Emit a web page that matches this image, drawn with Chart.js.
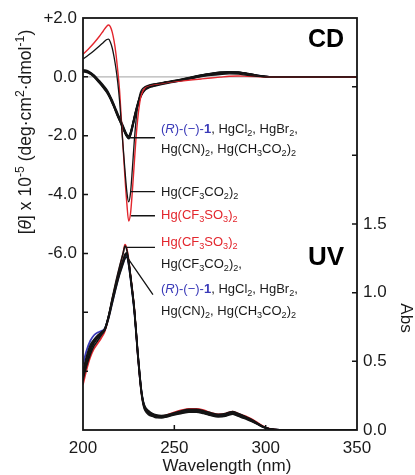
<!DOCTYPE html>
<html><head><meta charset="utf-8">
<script src="https://cdn.jsdelivr.net/npm/chart.js@4.4.1/dist/chart.umd.min.js"></script>
<style>html,body{margin:0;padding:0;background:#fff;}canvas{display:block;}</style>
</head><body>
<canvas id="c" width="415" height="475"></canvas>
<script>
// ---------- DATA ----------
const wlCD = [200,203,206,209,211,213,214,215,216,217,218,219,220,221,222,223,224,225,226,227,228,229,230,231,232,234,236,238,240,245,250,255,260,265,270,275,280,285,290,295,300,310,320,330,340,350];
const cdCF3SO3 = [0.77,0.95,1.15,1.38,1.55,1.72,1.76,1.70,1.52,1.22,0.80,0.22,-0.45,-1.45,-2.45,-3.45,-4.30,-4.90,-4.65,-3.90,-3.00,-2.10,-1.40,-0.90,-0.60,-0.36,-0.30,-0.27,-0.25,-0.20,-0.16,-0.13,-0.10,-0.07,-0.04,-0.01,0.02,0.03,0.02,0.01,0.00,0,0,0,0,0];
const cdCF3CO2 = [0.60,0.74,0.89,1.05,1.16,1.27,1.28,1.18,0.98,0.68,0.30,-0.18,-0.80,-1.60,-2.40,-3.20,-3.90,-4.25,-3.95,-3.15,-2.25,-1.50,-0.95,-0.62,-0.45,-0.33,-0.28,-0.25,-0.23,-0.19,-0.14,-0.09,-0.04,0.01,0.05,0.08,0.10,0.09,0.05,0.02,0.00,0,0,0,0,0];
const cdR1 = [0.22,0.17,0.04,-0.17,-0.31,-0.47,-0.58,-0.70,-0.84,-0.98,-1.14,-1.30,-1.43,-1.56,-1.71,-1.86,-1.99,-2.08,-1.96,-1.72,-1.45,-1.19,-0.95,-0.75,-0.60,-0.42,-0.35,-0.31,-0.28,-0.21,-0.16,-0.10,-0.03,0.04,0.09,0.13,0.15,0.14,0.10,0.05,0.01,0,0,0,0,0];
const cdHgCl2 = [0.20,0.15,0.02,-0.19,-0.34,-0.50,-0.61,-0.73,-0.87,-1.01,-1.17,-1.32,-1.46,-1.60,-1.75,-1.89,-2.01,-2.05,-1.92,-1.68,-1.41,-1.15,-0.92,-0.72,-0.57,-0.40,-0.33,-0.29,-0.26,-0.19,-0.14,-0.08,-0.01,0.06,0.11,0.15,0.17,0.16,0.11,0.05,0.01,0,0,0,0,0];
const cdHgBr2 = [0.18,0.13,0.00,-0.21,-0.36,-0.52,-0.63,-0.75,-0.89,-1.03,-1.19,-1.34,-1.48,-1.62,-1.77,-1.91,-2.03,-2.10,-1.98,-1.74,-1.47,-1.21,-0.97,-0.77,-0.62,-0.44,-0.37,-0.33,-0.30,-0.23,-0.17,-0.11,-0.04,0.03,0.08,0.12,0.14,0.13,0.09,0.04,0.01,0,0,0,0,0];
const cdHgCN2 = [0.24,0.19,0.06,-0.14,-0.28,-0.44,-0.55,-0.67,-0.80,-0.95,-1.10,-1.25,-1.39,-1.53,-1.68,-1.83,-1.96,-2.02,-1.90,-1.66,-1.39,-1.13,-0.90,-0.70,-0.55,-0.38,-0.31,-0.27,-0.25,-0.18,-0.13,-0.07,0.00,0.06,0.11,0.15,0.16,0.15,0.11,0.05,0.01,0,0,0,0,0];
const cdHgOAc2 = [0.21,0.16,0.03,-0.18,-0.32,-0.48,-0.59,-0.71,-0.85,-1.00,-1.15,-1.31,-1.45,-1.58,-1.73,-1.88,-2.00,-2.07,-1.94,-1.70,-1.43,-1.17,-0.94,-0.74,-0.59,-0.41,-0.34,-0.30,-0.27,-0.20,-0.15,-0.09,-0.02,0.05,0.10,0.14,0.16,0.15,0.10,0.05,0.01,0,0,0,0,0];

const wlUV = [200,202,204,206,208,210,212,214,216,218,220,222,223,224,225,226,227,228,229,230,231,232,233,234,236,238,240,243,246,250,254,258,262,266,270,274,278,280,282,284,287,290,293,296,299,302,305,310,320,330,340,350];
const uvCF3SO3 = [0.33,0.44,0.53,0.59,0.63,0.67,0.72,0.82,0.95,1.07,1.18,1.29,1.35,1.32,1.24,1.13,1.02,0.90,0.73,0.55,0.40,0.27,0.19,0.15,0.12,0.11,0.10,0.10,0.11,0.13,0.145,0.155,0.155,0.145,0.125,0.115,0.12,0.13,0.135,0.125,0.11,0.095,0.075,0.05,0.025,0.01,0.004,0,0,0,0,0];
const uvCF3CO2 = [0.38,0.47,0.55,0.61,0.65,0.69,0.73,0.83,0.96,1.08,1.19,1.29,1.34,1.31,1.23,1.12,1.01,0.89,0.72,0.54,0.39,0.26,0.18,0.14,0.11,0.10,0.09,0.09,0.10,0.12,0.135,0.145,0.145,0.135,0.12,0.11,0.115,0.125,0.13,0.12,0.105,0.09,0.07,0.045,0.022,0.009,0.003,0,0,0,0,0];
const uvR1 = [0.48,0.58,0.65,0.69,0.71,0.72,0.74,0.82,0.93,1.04,1.14,1.22,1.25,1.27,1.21,1.11,1.00,0.88,0.72,0.55,0.40,0.28,0.20,0.16,0.13,0.115,0.105,0.10,0.105,0.12,0.13,0.14,0.14,0.13,0.115,0.105,0.11,0.12,0.125,0.115,0.10,0.085,0.065,0.042,0.02,0.008,0.003,0,0,0,0,0];
const uvHgCl2 = [0.40,0.51,0.59,0.64,0.67,0.70,0.73,0.82,0.94,1.05,1.15,1.23,1.27,1.28,1.22,1.12,1.01,0.89,0.73,0.56,0.41,0.28,0.20,0.16,0.13,0.11,0.10,0.10,0.10,0.115,0.125,0.135,0.135,0.125,0.11,0.10,0.105,0.115,0.12,0.11,0.095,0.08,0.06,0.04,0.02,0.008,0.003,0,0,0,0,0];
const uvHgBr2 = [0.36,0.48,0.57,0.63,0.67,0.70,0.74,0.83,0.95,1.06,1.16,1.24,1.28,1.29,1.23,1.13,1.02,0.90,0.74,0.57,0.42,0.29,0.21,0.17,0.14,0.12,0.11,0.105,0.11,0.125,0.14,0.15,0.15,0.14,0.125,0.115,0.12,0.13,0.135,0.125,0.11,0.09,0.07,0.045,0.022,0.009,0.003,0,0,0,0,0];
const uvHgCN2 = [0.43,0.54,0.62,0.66,0.69,0.71,0.73,0.81,0.92,1.03,1.13,1.21,1.25,1.26,1.20,1.10,0.99,0.87,0.71,0.54,0.39,0.27,0.19,0.15,0.12,0.105,0.095,0.09,0.095,0.11,0.12,0.13,0.13,0.12,0.105,0.095,0.10,0.11,0.115,0.105,0.09,0.075,0.058,0.038,0.018,0.007,0.002,0,0,0,0,0];
const uvHgOAc2 = [0.41,0.52,0.60,0.65,0.68,0.71,0.74,0.83,0.94,1.05,1.15,1.23,1.27,1.28,1.22,1.12,1.01,0.89,0.73,0.56,0.41,0.28,0.20,0.16,0.13,0.115,0.105,0.10,0.105,0.12,0.135,0.145,0.145,0.135,0.12,0.11,0.115,0.125,0.13,0.12,0.105,0.088,0.068,0.044,0.021,0.008,0.003,0,0,0,0,0];

const xTicks = [200, 250, 300, 350];
const cdTickLabels = ['+2.0', '0.0', '-2.0', '-4.0', '-6.0'];
const absTickLabels = ['0.0', '0.5', '1.0', '1.5'];

// annotation texts (segments: [text, style])
const txtGroupA = [['(', 'blue'], ['R', 'blue i'], [')-(\u2212)-', 'blue'], ['1', 'blue b'], [', HgCl', ''], ['2', 'sub'], [', HgBr', ''], ['2', 'sub'], [',', '']];
const txtGroupB = [['Hg(CN)', ''], ['2', 'sub'], [', Hg(CH', ''], ['3', 'sub'], ['CO', ''], ['2', 'sub'], [')', ''], ['2', 'sub']];
const txtTFA = [['Hg(CF', ''], ['3', 'sub'], ['CO', ''], ['2', 'sub'], [')', ''], ['2', 'sub']];
const txtTFAc = [['Hg(CF', ''], ['3', 'sub'], ['CO', ''], ['2', 'sub'], [')', ''], ['2', 'sub'], [',', '']];
const txtOTf = [['Hg(CF', 'red'], ['3', 'red sub'], ['SO', 'red'], ['3', 'red sub'], [')', 'red'], ['2', 'red sub']];
const txtYTitle = [['[', ''], ['\u03B8', 'i'], ['] x 10', ''], ['-5', 'sup'], [' (deg\u00B7cm', ''], ['2', 'sup'], ['\u00B7dmol', ''], ['-1', 'sup'], [')', '']];

// ---------- STYLE ----------
const FAM = '"Liberation Sans", Arial, Helvetica, sans-serif';
const RED = '#e3262d', BLUE = '#3a3ab8', BLK = '#141414', TXT = '#1a1a1a';

function pts(xs, ys) { return xs.map((x, i) => ({ x: x, y: ys[i] })); }
function ds(label, xs, ys, axis, color, width, order) {
  return { label, data: pts(xs, ys), yAxisID: axis, borderColor: color, borderWidth: width,
    pointRadius: 0, fill: false, cubicInterpolationMode: 'monotone', order };
}
const datasets = [
  ds('CD Hg(CF3CO2)2', wlCD, cdCF3CO2, 'y', BLK, 1.3, 1),
  ds('CD Hg(CF3SO3)2', wlCD, cdCF3SO3, 'y', RED, 1.4, 2),
  ds('CD HgCl2', wlCD, cdHgCl2, 'y', BLK, 1.8, 3),
  ds('CD HgBr2', wlCD, cdHgBr2, 'y', BLK, 1.8, 4),
  ds('CD Hg(CN)2', wlCD, cdHgCN2, 'y', BLK, 1.8, 5),
  ds('CD Hg(CH3CO2)2', wlCD, cdHgOAc2, 'y', BLK, 1.8, 6),
  ds('CD (R)-(-)-1', wlCD, cdR1, 'y', BLUE, 1.8, 7),
  ds('UV Hg(CF3CO2)2', wlUV, uvCF3CO2, 'y2', BLK, 1.6, 8),
  ds('UV HgCl2', wlUV, uvHgCl2, 'y2', BLK, 1.6, 9),
  ds('UV HgBr2', wlUV, uvHgBr2, 'y2', BLK, 1.6, 10),
  ds('UV Hg(CN)2', wlUV, uvHgCN2, 'y2', BLK, 1.6, 11),
  ds('UV Hg(CH3CO2)2', wlUV, uvHgOAc2, 'y2', BLK, 1.6, 12),
  ds('UV Hg(CF3SO3)2', wlUV, uvCF3SO3, 'y2', RED, 1.6, 13),
  ds('UV (R)-(-)-1', wlUV, uvR1, 'y2', BLUE, 1.8, 14)
];

function segFont(style, size) {
  const small = /sub|sup/.test(style);
  const sz = small ? size * 0.7 : size;
  return (/\bi\b/.test(style) ? 'italic ' : '') + (/\bb\b/.test(style) ? 'bold ' : '') + sz.toFixed(1) + 'px ' + FAM;
}
function richWidth(ctx, segs, size) {
  let w = 0;
  for (const [t, st] of segs) { ctx.font = segFont(st, size); w += ctx.measureText(t).width; }
  return w;
}
function drawRich(ctx, segs, x, baseline, size, baseColor) {
  ctx.textBaseline = 'alphabetic'; ctx.textAlign = 'left';
  let cx = x;
  for (const [t, st] of segs) {
    ctx.font = segFont(st, size);
    let dy = 0;
    if (/sub/.test(st)) dy = size * 0.28;
    if (/sup/.test(st)) dy = -size * 0.42;
    ctx.fillStyle = /red/.test(st) ? RED : (/blue/.test(st) ? BLUE : baseColor);
    ctx.fillText(t, cx, baseline + dy);
    cx += ctx.measureText(t).width;
  }
}

const decor = {
  id: 'decor',
  beforeDatasetsDraw(chart) {
    const { ctx, chartArea: a, scales } = chart;
    const y0 = scales.y.getPixelForValue(0);
    ctx.save();
    ctx.strokeStyle = '#b4b4b4'; ctx.lineWidth = 1.4;
    ctx.beginPath(); ctx.moveTo(a.left, y0); ctx.lineTo(a.right, y0); ctx.stroke();
    ctx.restore();
  },
  afterDraw(chart) {
    const { ctx, chartArea: a, scales } = chart;
    const X = scales.x, Y = scales.y, Y2 = scales.y2;
    ctx.save();
    // frame
    ctx.strokeStyle = BLK; ctx.lineWidth = 1.8;
    ctx.strokeRect(a.left, a.top, a.right - a.left, a.bottom - a.top);
    // inward ticks
    ctx.lineWidth = 1.5;
    ctx.beginPath();
    for (let v = -10; v <= 0; v += 2) { const p = Y.getPixelForValue(v); ctx.moveTo(a.left, p); ctx.lineTo(a.left + 5, p); }
    for (let v = 0.5; v <= 2.5; v += 0.5) { const p = Y2.getPixelForValue(v); ctx.moveTo(a.right, p); ctx.lineTo(a.right - 5, p); }
    for (const v of [250, 300]) { const p = X.getPixelForValue(v); ctx.moveTo(p, a.bottom); ctx.lineTo(p, a.bottom - 5); }
    ctx.stroke();

    // leaders
    ctx.lineWidth = 1.3; ctx.strokeStyle = BLK;
    const L = (x1, v1, x2, v2, ax) => {
      const S = ax === 'y' ? Y : Y2;
      ctx.moveTo(X.getPixelForValue(x1), S.getPixelForValue(v1));
      ctx.lineTo(X.getPixelForValue(x2), S.getPixelForValue(v2));
    };
    ctx.beginPath();
    L(225.6, -2.07, 239.4, -2.07, 'y');
    L(226.2, -3.9, 239.4, -3.9, 'y');
    L(226.3, -4.72, 239.4, -4.72, 'y');
    L(223.8, 1.33, 239.4, 1.33, 'y2');
    L(224.6, 1.25, 238.3, 0.985, 'y2');
    ctx.stroke();

    // annotation labels
    const tx = X.getPixelForValue(242.7);
    const fs = 13, off = fs * 0.36;
    drawRich(ctx, txtGroupA, tx, 128 + off, fs, TXT);
    drawRich(ctx, txtGroupB, tx, 148 + off, fs, TXT);
    drawRich(ctx, txtTFA, tx, 191 + off, fs, TXT);
    drawRich(ctx, txtOTf, tx, 214 + off, fs, TXT);
    drawRich(ctx, txtOTf, tx, 241 + off, fs, TXT);
    drawRich(ctx, txtTFAc, tx, 263 + off, fs, TXT);
    drawRich(ctx, txtGroupA, tx, 288 + off, fs, TXT);
    drawRich(ctx, txtGroupB, tx, 310 + off, fs, TXT);

    // panel titles
    ctx.fillStyle = '#000'; ctx.textAlign = 'right'; ctx.textBaseline = 'middle';
    ctx.font = 'bold 25px ' + FAM; ctx.fillText('CD', 344, 40);
    ctx.font = 'bold 26px ' + FAM; ctx.fillText('UV', 344, 258);

    // axis titles
    ctx.fillStyle = TXT;
    ctx.font = '17px ' + FAM; ctx.textAlign = 'center'; ctx.textBaseline = 'middle';
    ctx.fillText('Wavelength (nm)', 227, 466);
    ctx.save(); ctx.translate(406, 318); ctx.rotate(Math.PI / 2);
    ctx.fillText('Abs', 0, 0); ctx.restore();
    ctx.save(); ctx.translate(25, 132); ctx.rotate(-Math.PI / 2);
    const ts = 17.5, w = richWidth(ctx, txtYTitle, ts);
    drawRich(ctx, txtYTitle, -w / 2, ts * 0.36, ts, TXT);
    ctx.restore();
    ctx.restore();
  }
};

const tickFont = { family: FAM, size: 17 };
new Chart(document.getElementById('c'), {
  type: 'line',
  data: { datasets },
  options: {
    responsive: false, animation: false, devicePixelRatio: 1,
    layout: { padding: { top: 18, left: 0, right: 0, bottom: 0 } },
    plugins: { legend: { display: false }, tooltip: { enabled: false } },
    scales: {
      x: { type: 'linear', min: 200, max: 350,
        afterBuildTicks: s => { s.ticks = xTicks.map(v => ({ value: v })); },
        ticks: { font: tickFont, color: TXT, padding: 8, maxRotation: 0, callback: v => String(v) },
        grid: { display: false, drawTicks: false }, border: { display: false },
        afterFit: s => { s.height = 45; } },
      y: { position: 'left', min: -12, max: 2,
        ticks: { stepSize: 2, font: tickFont, color: TXT, padding: 6,
          callback: v => { const i = [2, 0, -2, -4, -6].indexOf(v); return i >= 0 ? cdTickLabels[i] : ''; } },
        grid: { display: false, drawTicks: false }, border: { display: false },
        afterFit: s => { s.width = 83; } },
      y2: { position: 'right', min: 0, max: 3,
        ticks: { stepSize: 0.5, font: tickFont, color: TXT, padding: 6,
          callback: v => { const i = [0, 0.5, 1, 1.5].indexOf(v); return i >= 0 ? absTickLabels[i] : ''; } },
        grid: { display: false, drawTicks: false }, border: { display: false },
        afterFit: s => { s.width = 58; } }
    }
  },
  plugins: [decor]
});
</script>
</body></html>
